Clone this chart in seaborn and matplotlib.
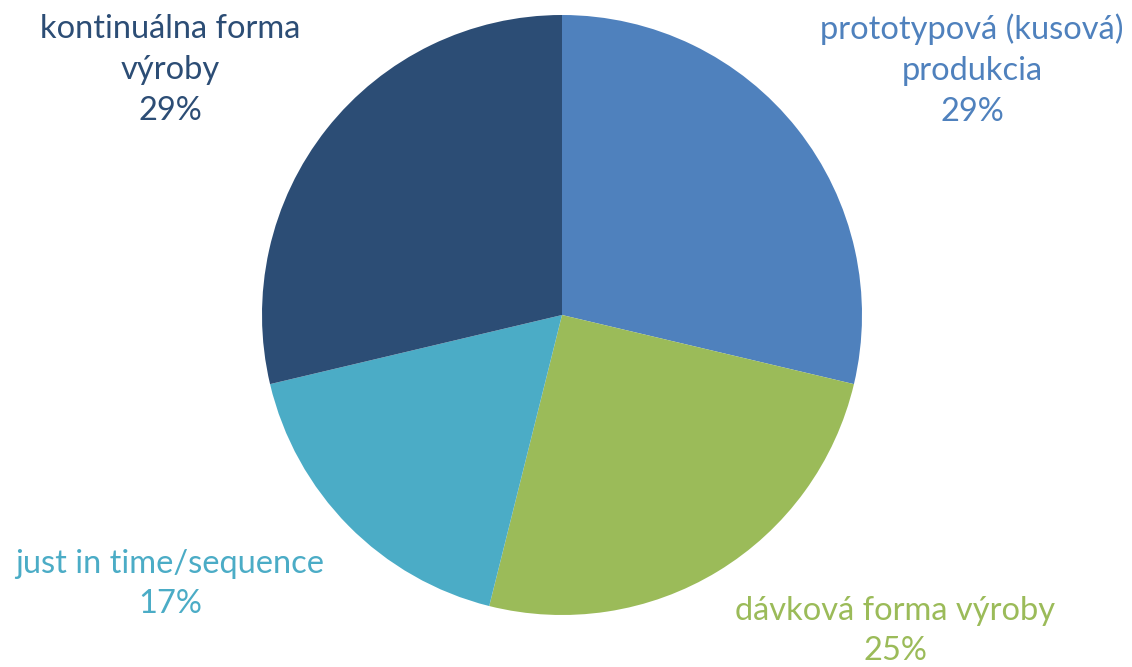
import matplotlib
matplotlib.use('Agg')
import matplotlib.pyplot as plt
import seaborn as sns

# ================================================
# Formy výroby - podiel odpovedí
# ================================================

labels = ['prototypová (kusová)\nprodukcia', 'dávková forma výroby',
          'just in time/sequence', 'kontinuálna forma\nvýroby']
values = [28.7, 25.2, 17.4, 28.7]
percent_labels = ['29%', '25%', '17%', '29%']
colors = ['#4F81BD', '#9BBB59', '#4BACC6', '#2C4D75']

sns.set_theme(style='white')
plt.rcParams['font.family'] = ['Lato', 'DejaVu Sans']

W, H = 1132, 667
fig = plt.figure(figsize=(W / 100, H / 100), dpi=100)
ax = fig.add_axes([262 / W, 52 / H, 600 / W, 600 / H])

ax.pie(values, colors=colors, startangle=90, counterclock=False,
       radius=1, wedgeprops={'linewidth': 0})
ax.set_xlim(-1, 1)
ax.set_ylim(-1, 1)
ax.set_aspect('equal')
ax.axis('off')

# label placement (pixel centres, Excel-style outside labels)
label_pos = [(972, 70), (895, 631), (170, 584), (170, 70)]
for lab, pct, col, (px, py) in zip(labels, percent_labels, colors, label_pos):
    fig.text(px / W, 1 - py / H, f'{lab}\n{pct}', color=col,
             fontsize=23.5, ha='center', va='center', linespacing=1.45)

fig.savefig('out.png', dpi=100)
